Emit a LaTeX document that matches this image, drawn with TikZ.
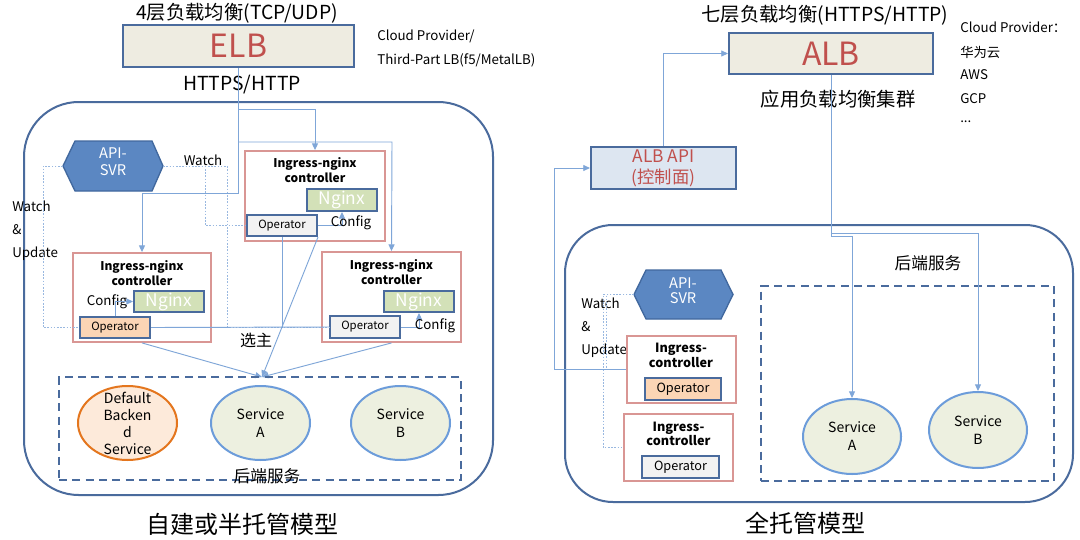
\documentclass[tikz,border=0pt]{standalone}
\usepackage{fontspec}
\setmainfont{Noto Sans CJK SC}
\usetikzlibrary{arrows.meta,shapes.geometric}
\definecolor{dblue}{HTML}{4A6B9D}
\definecolor{lline}{HTML}{7FA6D8}
\definecolor{beige}{HTML}{EEECE1}
\definecolor{redt}{HTML}{C0504D}
\definecolor{hexf}{HTML}{5B87C2}
\definecolor{hexd}{HTML}{41689E}
\definecolor{pinkb}{HTML}{D99694}
\definecolor{ngf}{HTML}{D3E1B8}
\definecolor{peach}{HTML}{FBD5B5}
\definecolor{grayf}{HTML}{F2F2F2}
\definecolor{svcf}{HTML}{EDF0E0}
\definecolor{svcb}{HTML}{6C9CDA}
\definecolor{deff}{HTML}{FDEADA}
\definecolor{defb}{HTML}{E4761E}
\definecolor{apif}{HTML}{DDE6F1}
\newcommand\fsz[2]{\fontsize{#1}{#2}\selectfont}
\tikzset{
  box/.style n args={4}{inner sep=0pt, minimum width={(#3-#1)*0.75pt}, minimum height={(#4-#2)*0.75pt}, at={({(#1+#3)/2},{(#2+#4)/2})}},
  lbbox/.style={draw=dblue, fill=beige, line width=1.6pt, text=redt, font=\fsz{24pt}{28pt}},
  apibox/.style={draw=dblue, fill=apif, line width=1.6pt, text=redt, align=center, font=\fsz{13pt}{15.75pt}},
  ctrlbox/.style={draw=pinkb, line width=1.4pt},
  ngbox/.style={draw=dblue, fill=ngf, line width=1.5pt, text=white, font=\fsz{13pt}{15pt}},
  opbox/.style={draw=dblue, line width=1.5pt},
  hexshape/.style={draw=hexd, fill=hexf, line width=1pt},
  conn/.style={draw=lline, line width=0.7pt},
  arr/.style={-{Triangle[length=5pt,width=4.5pt]}},
  dotl/.style={draw=lline!80, line width=0.6pt, dash pattern=on 1.2pt off 1.2pt},
  dashbox/.style={draw=dblue, line width=1.8pt, dash pattern=on 6pt off 4pt},
  svc/.style={ellipse, draw=svcb, fill=svcf, line width=1.5pt},
  defsvc/.style={ellipse, draw=defb, fill=deff, line width=1.5pt},
  svctxt/.style={inner sep=0pt, align=center, font=\fsz{10.5pt}{13.5pt}},
  bigframe/.style={draw=dblue, line width=1.5pt},
  lbl/.style={inner sep=0pt, font=\fsz{10pt}{12pt}},
  ctitle/.style={inner sep=0pt, align=center, font=\bfseries\fsz{9pt}{11.25pt}},
}
\begin{document}
\begin{tikzpicture}[x=0.75pt,y=-0.75pt]
\useasboundingbox (0,0) rectangle (1080,539);
\fill[white] (0,0) rectangle (1080,539);

% ================= LEFT =================
\node[inner sep=0pt, font=\fsz{14.5pt}{17pt}] (ttlL) at (237,13) {4层负载均衡(TCP/UDP)};
\node[lbbox, box={123}{25}{354}{67}] (elb) {ELB};
\node[lbl, anchor=west] (cp1) at (377,36) {Cloud Provider/};
\node[lbl, anchor=west] (cp2) at (377,60) {Third-Part LB(f5/MetalLB)};
\node[inner sep=0pt, font=\fsz{14.5pt}{17pt}] (https) at (242,85) {HTTPS/HTTP};

\draw[bigframe, rounded corners=41pt] (24,102) rectangle (493,495);

% API server hexagon
\draw[hexshape] (63,166) -- (75,141) -- (152,141) -- (163,166) -- (152,191) -- (75,191) -- cycle;
\node[box={63}{141}{163}{191}] (apiL) {};
\node[inner sep=0pt, text=white, align=center, font=\fsz{11pt}{12.75pt}] (apiLt) at (113,162) {API-\\SVR};

\node[lbl] (watchL) at (203,160) {Watch};
\node[lbl, anchor=west] (wu1) at (12,206) {Watch};
\node[lbl, anchor=west] (wu2) at (12,230) {\&};
\node[lbl, anchor=west] (wu3) at (12,254) {Update};

% controllers
\node[ctrlbox, box={73}{253}{211}{342}] (ctrlL) {};
\node[ctitle] (ctL) at (142,273.5) {Ingress-nginx\\controller};
\node[ngbox, box={134}{291}{204}{312}] (ngL) {Nginx};
\node[opbox, fill=peach, box={80}{317}{150}{338}, font=\fsz{8.5pt}{10pt}] (opL) {Operator};
\node[lbl] (cfgL) at (107,302) {Config};

\node[ctrlbox, box={245}{151}{385}{241}] (ctrlC) {};
\node[ctitle] (ctC) at (315,170.5) {Ingress-nginx\\controller};
\node[ngbox, box={307}{189}{377}{211}] (ngC) {Nginx};
\node[opbox, fill=grayf, box={247}{215}{317}{236}, font=\fsz{8.5pt}{10pt}] (opC) {Operator};

\node[ctrlbox, box={322}{252}{461}{342}] (ctrlR) {};
\node[ctitle] (ctR) at (391.5,272) {Ingress-nginx\\controller};
\node[ngbox, box={384}{291}{454}{312}] (ngR) {Nginx};
\node[opbox, fill=grayf, box={330}{316}{400}{338}, font=\fsz{8.5pt}{10pt}] (opR) {Operator};

% ELB fan-out
\coordinate (j1) at (315,109);
\coordinate (j2) at (392,142);
\coordinate (j3) at (142,193);
\draw[conn, arr] (elb.south) |- (j1) -- (ctrlC.north);
\draw[conn, arr] (elb.south) |- (j2) -- (ctrlR.north);
\draw[conn, arr] (elb.south) |- (j3) -- (ctrlL.north);

% watch lines
\draw[dotl] (apiL.west) -- (43,166) |- (opL.west);
\draw[dotl] (apiL.east) -- (205,166) |- (opC.west);
\draw[dotl] (apiL.east) -- (227,166) |- (opR.west);

% operator links
\draw[conn] (opL.east) -- (opR.west);
\draw[conn] (opC.south) -- (opC.south |- opL.east);
\draw[conn, arr] (opL.north) |- (ngL.west);
\draw[conn, arr] (opC.east) -| (ngC.south);
\draw[conn, arr] (opR.east) -| (ngR.south);
\node[lbl] (cfgC) at (351,223) {Config};
\node[lbl] (cfgR) at (435,326) {Config};

% election
\coordinate (xz) at (262,377);
\draw[conn, arr] (ctrlL.south) -- (xz);
\draw[conn, arr] (opC.south east) -- (xz);
\draw[conn, arr] (ctrlR.south) -- (xz);
\node[inner sep=0pt, font=\fsz{12pt}{14pt}] (xuanzhu) at (256,340) {选主};

% backend
\node[dashbox, box={59}{377}{461}{480}] (backL) {};
\node[defsvc, box={78}{386}{177}{460}] (defS) {};
\node[svctxt, font=\fsz{10.5pt}{12.75pt}] (defSt) at (defS) {Default\\Backen\\d\\Service};
\node[svc, box={211}{386}{310}{460}] (svcLA) {};
\node[svctxt] (svcLAt) at (svcLA) {Service\\A};
\node[svc, box={351}{386}{450}{460}] (svcLB) {};
\node[svctxt] (svcLBt) at (svcLB) {Service\\B};
\node[inner sep=0pt, font=\fsz{12.5pt}{14pt}] (hdL) at (267,476) {后端服务};
\node[inner sep=0pt, font=\fsz{18pt}{20pt}] (capL) at (242,524) {自建或半托管模型};

% ================= RIGHT =================
\node[inner sep=0pt, font=\fsz{14.5pt}{17pt}] (ttlR) at (825,15) {七层负载均衡(HTTPS/HTTP)};
\node[lbbox, box={729}{33}{933}{74}] (alb) {ALB};
\node[inner sep=0pt, font=\fsz{14.5pt}{17pt}] (albc) at (838,99) {应用负载均衡集群};
\node[lbl, anchor=west] (rc1t) at (960,27) {Cloud Provider：};
\node[lbl, anchor=west] (rc2t) at (960,52) {华为云};
\node[lbl, anchor=west] (rc3t) at (960,75) {AWS};
\node[lbl, anchor=west] (rc4t) at (960,99) {GCP};
\node[lbl, anchor=west] (rc5t) at (960,122) {...};

\node[apibox, box={591}{147}{736}{189}] (albapi) {ALB API\\(控制面)};

\draw[bigframe, rounded corners=36pt] (565,225) rectangle (1073,502);

\draw[hexshape] (634,294.5) -- (646,270) -- (721,270) -- (733,294.5) -- (721,319) -- (646,319) -- cycle;
\node[box={634}{270}{733}{319}] (apiR) {};
\node[inner sep=0pt, text=white, align=center, font=\fsz{11pt}{11.25pt}] (apiRt) at (683,290.5) {API-\\SVR};

\node[lbl, anchor=west] (rw1) at (581,303) {Watch};
\node[lbl, anchor=west] (rw2) at (581,327) {\&};
\node[lbl, anchor=west] (rw3) at (581,351) {Update};

\node[ctrlbox, box={627}{336}{736}{403}] (rc1) {};
\node[ctitle, font=\bfseries\fsz{9.5pt}{11pt}] (rct1) at (681,355.5) {Ingress-\\controller};
\node[opbox, fill=peach, box={645}{378}{721}{400}, font=\fsz{9.5pt}{11pt}] (rop1) {Operator};

\node[ctrlbox, box={624}{414}{733}{481}] (rc2) {};
\node[ctitle, font=\bfseries\fsz{9.5pt}{11pt}] (rct2) at (678.5,434) {Ingress-\\controller};
\node[opbox, fill=grayf, box={642}{456}{719}{478}, font=\fsz{9.5pt}{11pt}] (rop2) {Operator};

\draw[dotl] (apiR.west) -- (603,294.5) |- (rc2.west);
\draw[dotl] (apiR.west) -- (606,294.5) |- (rc1.west);

\draw[conn, arr] (rc1.west) -- (554,369.5) |- (albapi.west);
\draw[conn, arr] (albapi.north) |- (alb.west);

\node[dashbox, box={761}{286}{1054}{481}] (backR) {};
\node[inner sep=0pt, font=\fsz{12.5pt}{14pt}] (hdR) at (928,263) {后端服务};
\node[svc, box={803}{399}{901}{474}] (svcRA) {};
\node[svctxt] (svcRAt) at (svcRA) {Service\\A};
\node[svc, box={929}{392}{1027}{468}] (svcRB) {};
\node[svctxt] (svcRBt) at (svcRB) {Service\\B};

\coordinate (k1) at (831,233);
\coordinate (k2) at (831,236);
\draw[conn, arr] (alb.south) -- (k1) -| (svcRB.north);
\draw[conn, arr] (alb.south) -- (k2) -| (svcRA.north);

\node[inner sep=0pt, font=\fsz{18pt}{20pt}] (capR) at (805,523) {全托管模型};
\end{tikzpicture}
\end{document}
